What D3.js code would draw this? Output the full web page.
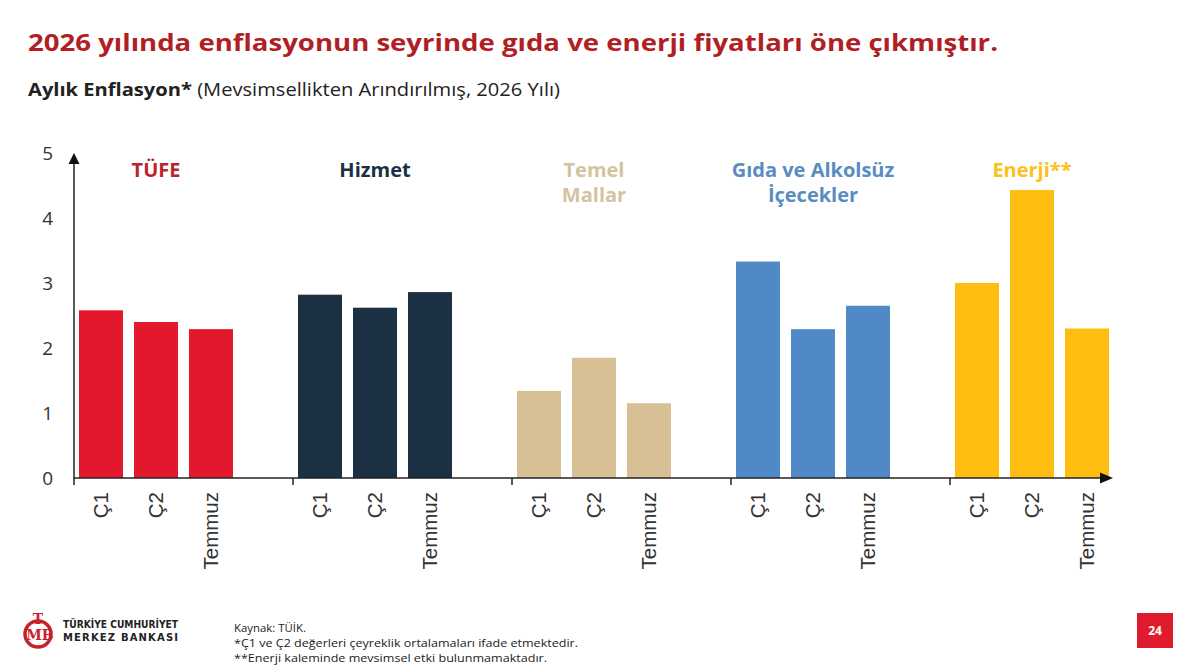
<!DOCTYPE html>
<html><head><meta charset="utf-8">
<script src="https://cdn.jsdelivr.net/npm/d3@7/dist/d3.min.js"></script>
<style>body{margin:0;background:#fff}svg{display:block}</style>
</head><body>
<svg id="c" width="1200" height="668"></svg>
<script>
const groups = ["TÜFE","Hizmet","Temel Mallar","Gıda ve Alkolsüz İçecekler","Enerji**"];
const groupLabels = [["TÜFE"],["Hizmet"],["Temel","Mallar"],["Gıda ve Alkolsüz","İçecekler"],["Enerji**"]];
const periods = ["Ç1","Ç2","Temmuz"];
const tufe   = [2.58, 2.40, 2.29];
const hizmet = [2.82, 2.62, 2.86];
const temel  = [1.34, 1.85, 1.15];
const gida   = [3.33, 2.29, 2.65];
const enerji = [3.00, 4.43, 2.30];
const seriesValues = [tufe, hizmet, temel, gida, enerji];
const colors = ["#E3182D","#1B3043","#D7BF96","#5089C6","#FFBD10"];
const labelColors = ["#B8262B","#1B3043","#D4C39E","#5A8CBF","#FDC11A"];
const yTicks = [0,1,2,3,4,5];
const title = "2026 yılında enflasyonun seyrinde gıda ve enerji fiyatları öne çıkmıştır.";
const footnotes = ["Kaynak: TÜİK.","*Ç1 ve Ç2 değerleri çeyreklik ortalamaları ifade etmektedir.","**Enerji kaleminde mevsimsel etki bulunmamaktadır."];

const svg = d3.select("#c");
const axisX = 74, baseY = 478;
const x0 = d3.scaleBand().domain(groups).range([axisX, axisX + 219*5]).padding(0);
const x1 = d3.scaleBand().domain(periods).range([0, 164]).paddingInner(0.2).paddingOuter(0.0909);
const y = d3.scaleLinear().domain([0,5]).range([baseY, 153]);

// Title
svg.append("text").attr("x",28).attr("y",51).attr("font-family","Open Sans").attr("font-weight",700)
  .attr("font-size",23).attr("fill","#B01F24")
  .attr("textLength",970).attr("lengthAdjust","spacingAndGlyphs").text(title);
const sub = svg.append("text").attr("x",28).attr("y",96).attr("font-family","Open Sans").attr("font-size",18).attr("fill","#222")
  .attr("textLength",532).attr("lengthAdjust","spacingAndGlyphs");
sub.append("tspan").attr("font-weight",700).text("Aylık Enflasyon*");
sub.append("tspan").text(" (Mevsimsellikten Arındırılmış, 2026 Yılı)");

// bars
const g = svg.append("g");
groups.forEach((grp, gi) => {
  const gg = g.append("g").attr("transform", `translate(${x0(grp)},0)`);
  gg.selectAll("rect").data(periods.map((p,i)=>({p, v: seriesValues[gi][i]}))).join("rect")
    .attr("x", d => x1(d.p)).attr("width", x1.bandwidth())
    .attr("y", d => y(d.v)).attr("height", d => y(0) - y(d.v))
    .attr("fill", colors[gi]);
  gg.selectAll("text.xl").data(periods).join("text").attr("class","xl")
    .attr("transform", d => `translate(${x1(d)+x1.bandwidth()/2},${baseY+14}) rotate(-90)`)
    .attr("text-anchor","end").attr("dy","0.35em")
    .attr("font-family","Liberation Sans, Arial").attr("font-size",20.5).attr("fill","#333").text(d=>d);
  const cx = x1("Ç1") + (x1("Temmuz") + x1.bandwidth() - x1("Ç1"))/2;
  groupLabels[gi].forEach((line, li) => {
    gg.append("text").attr("x", cx).attr("y", 177 + li*25).attr("text-anchor","middle")
      .attr("font-family","Open Sans").attr("font-weight",700).attr("font-size",20)
      .attr("fill", labelColors[gi]).text(line);
  });
});

// axes
const ax = svg.append("g").attr("stroke","#222").attr("stroke-width",1.5);
ax.append("line").attr("x1",axisX).attr("x2",1102).attr("y1",baseY).attr("y2",baseY);
ax.append("line").attr("x1",axisX).attr("x2",axisX).attr("y1",485).attr("y2",162);
groups.forEach(grp => {
  if (x0(grp) > axisX) ax.append("line").attr("x1",x0(grp)).attr("x2",x0(grp)).attr("y1",baseY).attr("y2",485);
});
svg.append("path").attr("d",`M${axisX},${y(5)} L${axisX-5.5},${y(5)+11} L${axisX+5.5},${y(5)+11} Z`).attr("fill","#111");
svg.append("path").attr("d",`M1113,${baseY} L1100,${baseY-5.5} L1100,${baseY+5.5} Z`).attr("fill","#111");
svg.selectAll("text.yt").data(yTicks).join("text").attr("class","yt")
  .attr("x",53).attr("y",d=>y(d)).attr("dy","0.36em").attr("text-anchor","end")
  .attr("font-family","Open Sans").attr("font-size",19).attr("fill","#333").text(d=>d);

// footer
const logo = svg.append("g");
logo.append("circle").attr("cx",38).attr("cy",634).attr("r",13).attr("fill","none").attr("stroke","#C8202A").attr("stroke-width",3.5);
logo.append("text").attr("x",40).attr("y",640).attr("text-anchor","middle").attr("font-family","DejaVu Serif").attr("font-weight",700)
  .attr("font-size",14).attr("fill","#C8202A").text("MB");
logo.append("text").attr("x",38).attr("y",624).attr("text-anchor","middle").attr("font-family","DejaVu Serif").attr("font-weight",700)
  .attr("font-size",14).attr("fill","#C8202A").text("T");
logo.append("text").attr("x",63).attr("y",628).attr("font-family","DejaVu Sans Condensed, DejaVu Sans").attr("font-weight",700)
  .attr("font-size",10).attr("fill","#222").attr("textLength",115).attr("lengthAdjust","spacingAndGlyphs").text("TÜRKİYE CUMHURİYET");
logo.append("text").attr("x",63).attr("y",641).attr("font-family","DejaVu Sans").attr("font-weight",700)
  .attr("font-size",10).attr("fill","#222").attr("textLength",115).attr("lengthAdjust","spacing").text("MERKEZ BANKASI");
const fnWidths = [72, 344, 313];
svg.selectAll("text.fn").data(footnotes).join("text").attr("class","fn")
  .attr("x",234).attr("y",(d,i)=>632+i*15).attr("font-family","Open Sans").attr("font-size",11).attr("fill","#222")
  .attr("textLength",(d,i)=>fnWidths[i]).attr("lengthAdjust","spacingAndGlyphs").text(d=>d);
svg.append("rect").attr("x",1137).attr("y",613).attr("width",36).attr("height",35).attr("fill","#E11B2E");
svg.append("text").attr("x",1155).attr("y",635).attr("text-anchor","middle").attr("font-family","Open Sans").attr("font-weight",700)
  .attr("font-size",12).attr("fill","#fff").text("24");
</script>
</body></html>
